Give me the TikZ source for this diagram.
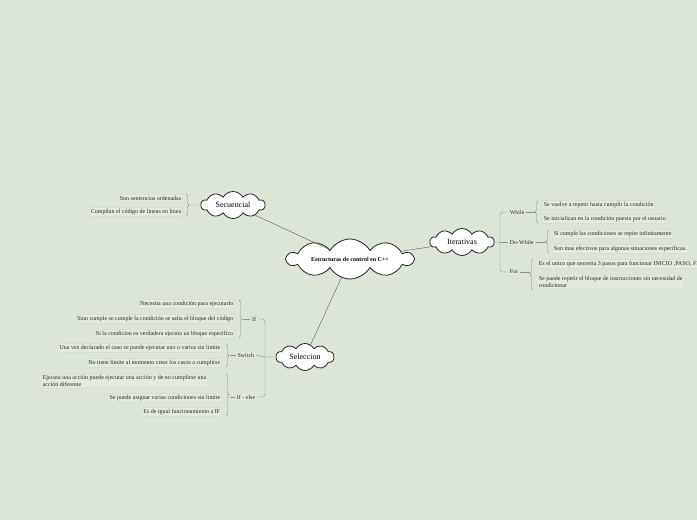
\documentclass[tikz,border=0pt]{standalone}
\usepackage{tikz}
\usepackage{fontspec}
\setmainfont{Liberation Serif}
\usetikzlibrary{shapes.symbols,decorations.pathreplacing}
\definecolor{fondo}{HTML}{DBE6D7}
\definecolor{hojafondo}{HTML}{E2EBDE}
\definecolor{hojaborde}{HTML}{D0DDCB}
\definecolor{linea}{HTML}{8A9486}
\tikzstyle{nube} = [cloud, cloud puffs=10, cloud puff arc=120, cloud ignores aspect,
    draw=black!85, fill=white, thick, inner sep=0pt, text=black]
\tikzstyle{hoja} = [fill=hojafondo, draw=hojaborde, rounded corners=1pt,
    inner sep=1.6pt, text=black!85, font=\fontsize{6}{6.4}\selectfont]
\tikzstyle{sub} = [hoja, font=\fontsize{6}{6.4}\selectfont]
\tikzstyle{rama} = [draw=linea, thin]
\tikzstyle{llave} = [draw=linea, thin, decorate, decoration={brace, amplitude=3pt}]
\tikzstyle{conector} = [draw=black!65, thin]

\begin{document}
\begin{tikzpicture}[x=1pt,y=-1pt]
    \fill[fondo] (0,0) rectangle (697,520);
    \useasboundingbox (0,0) rectangle (697,520);

    % nubes
    \node[nube, minimum width=126pt, minimum height=40pt,
        font=\bfseries\fontsize{6}{6.5}\selectfont] (raiz) at (350,259) {Estructuras de control en C++};
    \node[nube, minimum width=64pt, minimum height=27pt,
        font=\fontsize{8}{9}\selectfont] (secuencial) at (233,205) {Secuencial};
    \node[nube, minimum width=64pt, minimum height=27pt,
        font=\fontsize{8}{9}\selectfont] (iterativas) at (462,242) {Iterativas};
    \node[nube, minimum width=58pt, minimum height=27pt,
        font=\fontsize{8}{9}\selectfont] (seleccion) at (305,357) {Seleccion};

    \draw[conector] (raiz) -- (secuencial);
    \draw[conector] (raiz) -- (iterativas);
    \draw[conector] (raiz) -- (seleccion);

    % Secuencial
    \node[hoja, anchor=east] (s1) at (183,198) {Son sentencias ordenadas};
    \node[hoja, anchor=east] (s2) at (183,212) {Compilan el código de  lineas en linea};
    \draw[llave] (186,194) -- (186,216);
    \coordinate (llaveS) at (190,205);
    \draw[rama] (llaveS) -- (secuencial.west);

    % Iterativas
    \coordinate (itJ) at (500,242);
    \node[sub, anchor=west] (while) at (508,212) {While};
    \node[sub, anchor=west] (dowhile) at (508,242) {Do-While};
    \node[sub, anchor=west] (for) at (508,272) {For};
    \draw[rama] (iterativas.east) -- (itJ);
    \draw[rama, rounded corners=3pt] (itJ) |- (while.west);
    \draw[rama] (itJ) -- (dowhile.west);
    \draw[rama, rounded corners=3pt] (itJ) |- (for.west);

    \node[hoja, anchor=west] (w1) at (542,205) {Se vuelve  a repetir hasta cumplir la condición};
    \node[hoja, anchor=west] (w2) at (542,219) {Se inicializan en la condición puesta por el usuario};
    \draw[llave] (538,223) -- (538,201);
    \coordinate (llaveW) at (535,212);
    \draw[rama] (while.east) -- (llaveW);

    \node[hoja, anchor=west] (d1) at (552,234) {Si cumple las condiciones se repite infinitamente};
    \node[hoja, anchor=west] (d2) at (552,249) {Son mas efectivos para algunas situaciones especificas.};
    \draw[llave] (549,253) -- (549,230);
    \coordinate (llaveD) at (546,242);
    \draw[rama] (dowhile.east) -- (llaveD);

    \node[hoja, anchor=west] (f1) at (537,264) {Es el unico  que necesita 3 pasos para funcionar INICIO ,PASO, FIN};
    \node[hoja, anchor=west, align=left] (f2) at (537,282)
        {Se puede repetir el bloque de instrucciones  sin necesidad de\\condicionar};
    \draw[llave] (533,290) -- (533,259);
    \coordinate (llaveF) at (530,272);
    \draw[rama] (for.east) -- (llaveF);

    % Seleccion
    \coordinate (seJ) at (265,357);
    \node[sub, anchor=east] (if) at (258,319) {If};
    \node[sub, anchor=east] (switch) at (256,355) {Switch};
    \node[sub, anchor=east] (ifelse) at (257,397) {If - else};
    \draw[rama] (seleccion.west) -- (seJ);
    \draw[rama, rounded corners=3pt] (seJ) |- (if.east);
    \draw[rama] (seJ) -- (switch.east);
    \draw[rama, rounded corners=3pt] (seJ) |- (ifelse.east);

    \node[hoja, anchor=east] (i1) at (235,304) {Necesita una condición para ejecutarlo};
    \node[hoja, anchor=east] (i2) at (235,319) {Sino cumple se cumple la condición se salta el bloque del código};
    \node[hoja, anchor=east] (i3) at (235,334) {Si la condicion es verdadera ejecuta un bloque especifico};
    \draw[llave] (239,300) -- (239,338);
    \coordinate (llaveI) at (243,319);
    \draw[rama] (llaveI) -- (if.west);

    \node[hoja, anchor=east] (sw1) at (222,348) {Una vez declarado el caso se puede ejecutar uno o varios sin limite};
    \node[hoja, anchor=east] (sw2) at (222,363) {No tiene limite al momento crear los casos a cumplirse};
    \draw[llave] (226,344) -- (226,367);
    \coordinate (llaveSw) at (230,355);
    \draw[rama] (llaveSw) -- (switch.west);

    \node[hoja, anchor=west, align=left] (e1) at (41,381)
        {Ejecuta una acción puede ejecutar una acción y de no cumplirse una\\acción diferente};
    \node[hoja, anchor=east] (e2) at (222,398) {Se puede asignar varias condiciones sin limite};
    \node[hoja, anchor=east] (e3) at (222,412) {Es de igual funcionamiento a IF};
    \draw[llave] (226,374) -- (226,416);
    \coordinate (llaveE) at (230,397);
    \draw[rama] (llaveE) -- (ifelse.west);
\end{tikzpicture}
\end{document}
